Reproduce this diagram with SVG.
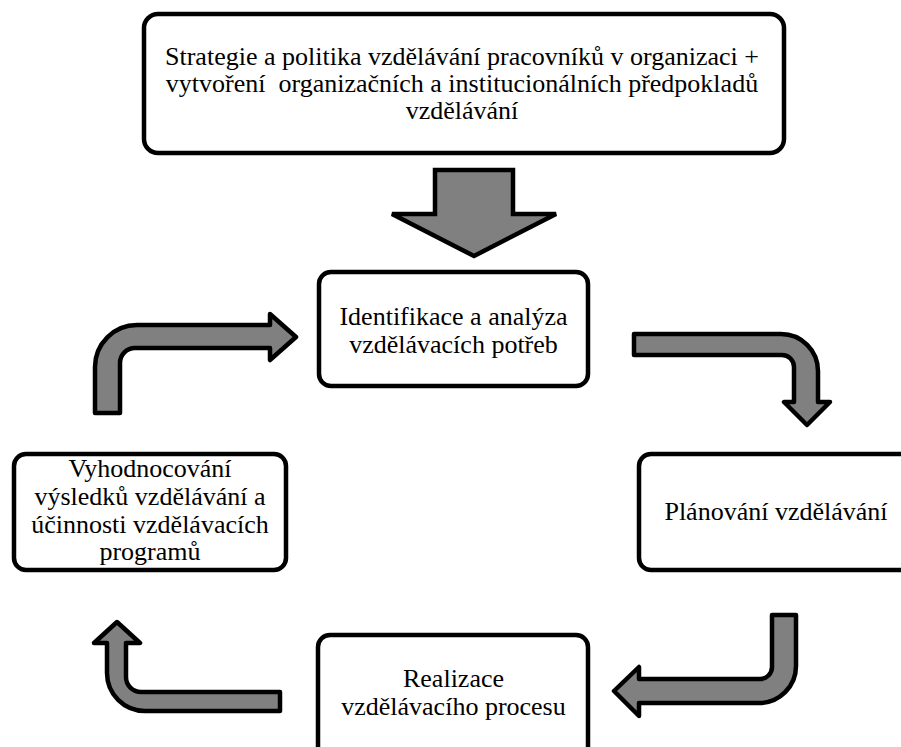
<svg xmlns="http://www.w3.org/2000/svg" width="901" height="747" viewBox="0 0 901 747">
<style>
.box{fill:#fff;stroke:#000;stroke-width:4.5}
.arr{fill:#808080;stroke:#000;stroke-width:4.5;stroke-linejoin:round}
text{font-family:'Liberation Serif','Times New Roman',Tinos,'DejaVu Serif',serif;font-size:26px;fill:#000;text-anchor:middle}
</style>
<rect width="901" height="747" fill="#fff"/>
<g id="connectors">
<path class="arr" style="stroke-linejoin:miter" d="M435 170 L513 170 L513 214 L556 214 L474 256 L392 214 L435 214 Z"/>
<path class="arr" d="M95 413 L95 367 A42 42 0 0 1 137 325 L270 325 L270 314 L296 337 L270 360 L270 348 L135 348 A15 15 0 0 0 120 363 L120 413 Z"/>
<path class="arr" d="M634 334 L781 334 A37 37 0 0 1 818 371 L818 402 L830 402 L807 425 L784 402 L794 402 L794 367 A12 12 0 0 0 782 355 L634 355 Z"/>
<path class="arr" d="M772 615 L796 615 L796 666 A37 37 0 0 1 759 703 L639 703 L639 716 L614 691 L639 667 L639 679 L760 679 A12 12 0 0 0 772 667 Z"/>
<path class="arr" d="M280 692 L280 711 L145 711 A38 38 0 0 1 107 673 L107 643 L94 643 L117 622 L140 643 L126 643 L126 677 A15 15 0 0 0 141 692 Z"/>
</g>
<g id="n_strategy" font-family="Liberation Serif, serif">
<rect class="box" x="144" y="14" width="640" height="139" rx="14"/>
<text x="462" y="65" font-size="26.5">Strategie a politika vzdělávání pracovníků v organizaci +</text>
<text x="462" y="92" font-size="26.5" xml:space="preserve">vytvoření  organizačních a institucionálních předpokladů</text>
<text x="462" y="119" font-size="26.5">vzdělávání</text>
</g>
<g id="n_identification">
<rect class="box" x="319" y="272" width="269" height="114" rx="12"/>
<text x="453.5" y="325">Identifikace a analýza</text>
<text x="453.5" y="353">vzdělávacích potřeb</text>
</g>
<g id="n_evaluation">
<rect class="box" x="14" y="454" width="272" height="116" rx="12"/>
<text x="150" y="477">Vyhodnocování</text>
<text x="150" y="505">výsledků vzdělávání a</text>
<text x="150" y="533">účinnosti vzdělávacích</text>
<text x="150" y="560">programů</text>
</g>
<g id="n_planning">
<rect class="box" x="639" y="454" width="280" height="116" rx="12"/>
<text x="776" y="520">Plánování vzdělávání</text>
</g>
<g id="n_realization">
<rect class="box" x="318" y="635" width="270" height="125" rx="12"/>
<text x="453.5" y="687">Realizace</text>
<text x="453.5" y="715">vzdělávacího procesu</text>
</g>
</svg>
